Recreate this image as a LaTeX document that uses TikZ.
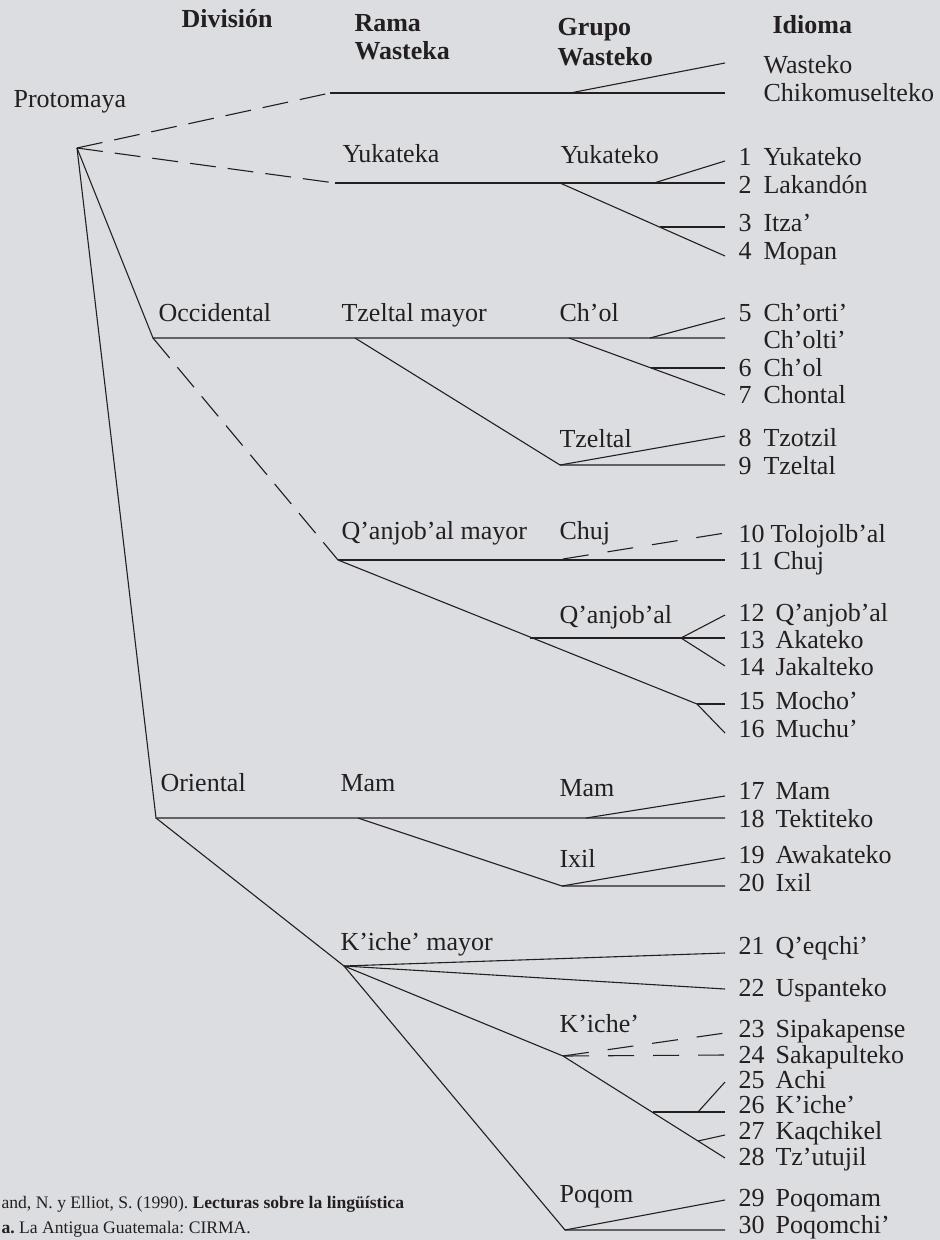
\documentclass[tikz,border=0pt]{standalone}
\usepackage{fontspec}
\setmainfont{Liberation Serif}
\definecolor{paper}{RGB}{220,221,224}
\definecolor{ink}{RGB}{35,31,32}

\begin{document}
\begin{tikzpicture}[x=0.5pt,y=-0.5pt,line width=0.55pt,color=ink,
  lbl/.style={anchor=base west,inner sep=0pt,font=\fontsize{13}{15}\selectfont},
  hdr/.style={lbl,font=\fontsize{13}{15}\selectfont\bfseries},
  cite/.style={anchor=base west,inner sep=0pt,font=\fontsize{8.8}{12}\selectfont\frenchspacing},
  dashline/.style={dash pattern=on 13pt off 6pt},
  dashgrp/.style={dash pattern=on 13pt off 9.5pt}]
\useasboundingbox (0,0) rectangle (940,1240);
\fill[paper] (0,0) rectangle (940,1240);

% column heads
\node[hdr] (division) at (181,28) {Divisi\'on};
\node[hdr] (rama) at (354,32) {Rama};
\node[hdr] (ramaw) at (354,60) {Wasteka};
\node[hdr] (grupo) at (557,36) {Grupo};
\node[hdr] (grupow) at (557,66) {Wasteko};
\node[hdr] (idioma) at (772,34) {Idioma};

% division and branch names
\node[lbl] (protomaya) at (13,108) {Protomaya};
\node[lbl] (occidental) at (158,322) {Occidental};
\node[lbl] (oriental) at (160,791) {Oriental};
\node[lbl] (r-yuk) at (342,163) {Yukateka};
\node[lbl] (r-tzel) at (341,322) {Tzeltal mayor};
\node[lbl] (r-qanj) at (341,539) {Q'anjob'al mayor};
\node[lbl] (r-mam) at (340,791) {Mam};
\node[lbl] (r-kich) at (340,950) {K'iche' mayor};

% group names
\node[lbl] (g-yuk) at (560,164) {Yukateko};
\node[lbl] (g-chol) at (559,322) {Ch'ol};
\node[lbl] (g-tzel) at (559,447) {Tzeltal};
\node[lbl] (g-chuj) at (559,539) {Chuj};
\node[lbl] (g-qanj) at (559,623) {Q'anjob'al};
\node[lbl] (g-mam) at (559,796) {Mam};
\node[lbl] (g-ixil) at (559,867) {Ixil};
\node[lbl] (g-kich) at (559,1032) {K'iche'};
\node[lbl] (g-poq) at (559,1202) {Poqom};

% languages: name/line end/baseline/number/text x/text
\foreach \nm/\e/\y/\n/\x/\t in {
  wA/63/74//763/Wasteko, wB/93/102//763/Chikomuselteko,
  l1/161/166/1/763/Yukateko, l2/183/194/2/763/Lakand\'on,
  l3/227/232/3/763/Itza', l4/256/260/4/763/Mopan,
  l5/318/322/5/763/Ch'orti', lc/338/349//763/Ch'olti',
  l6/368/377/6/763/Ch'ol, l7/395/404/7/763/Chontal,
  l8/436/446/8/763/Tzotzil, l9/465/474/9/763/Tzeltal,
  l10/533/542/10/770/Tolojolb'al, l11/560/569/11/773/Chuj,
  l12/615/621/12/775/Q'anjob'al, l13/638/648/13/775/Akateko,
  l14/666/675/14/775/Jakalteko, l15/704/709/15/775/Mocho',
  l16/733/737/16/775/Muchu', l17/796/799/17/775/Mam,
  l18/818/827/18/775/Tektiteko, l19/858/863/19/775/Awakateko,
  l20/886/891/20/775/Ixil, l21/953/954/21/775/Q'eqchi',
  l22/989/996/22/775/Uspanteko, l23/1033/1037/23/775/Sipakapense,
  l24/1055/1063/24/775/Sakapulteko, l25/1082/1088/25/775/Achi,
  l26/1112/1113/26/775/K'iche', l27/1135/1139/27/775/Kaqchikel,
  l28/1158/1165/28/775/Tz'utujil, l29/1200/1206/29/775/Poqomam,
  l30/1230/1233/30/775/Poqomchi'} {
  \coordinate (\nm) at (725,\e);
  \node[lbl] (num-\nm) at (738,\y) {\n};
  \node[lbl] (lang-\nm) at (\x,\y) {\t};
}

% junctions
\coordinate (proto) at (77,148);
\coordinate (wast) at (330,93);
\coordinate (wastf) at (570,93);
\coordinate (yuka) at (335,183);
\coordinate (yukf) at (654,183);
\coordinate (yuks) at (560,183);
\coordinate (itza) at (660,227);
\coordinate (occ) at (153,338);
\coordinate (tzm) at (355,338);
\coordinate (chol) at (569,338);
\coordinate (cholu) at (650,338);
\coordinate (chols) at (651,368);
\coordinate (tzl) at (560,465);
\coordinate (qm) at (338,560);
\coordinate (chuj) at (563,559);
\coordinate (qanj) at (530,638);
\coordinate (qanjf) at (681,638);
\coordinate (moch) at (697,704);
\coordinate (ori) at (156,818);
\coordinate (mam) at (358,818);
\coordinate (mamf) at (586,818);
\coordinate (ixil) at (562,886);
\coordinate (kim) at (344,966);
\coordinate (kic) at (563,1056);
\coordinate (achi) at (653,1112);
\coordinate (achif) at (698,1112);
\coordinate (kaq) at (698,1141);
\coordinate (poq) at (565,1230);

% Wasteka and Yukateka
\draw[dashline] (proto) -- (wast);
\draw (wast) -- (wB);
\draw (wastf) -- (wA);
\draw[dashline] (proto) -- (yuka);
\draw (yuka) -- (l2);
\draw (yukf) -- (l1);
\draw (yuks) -- (l4);
\draw (itza) -- (l3);

% Occidental
\draw (proto) -- (occ) -- (lc);
\draw (cholu) -- (l5);
\draw (chol) -- (l7);
\draw (chols) -- (l6);
\draw (tzm) -- (tzl) -- (l9);
\draw (tzl) -- (l8);
\draw[dashline] (occ) -- (qm);
\draw (qm) -- (l11);
\draw[dashgrp] (chuj) -- (l10);
\draw (qm) -- (moch) -- (l16);
\draw (moch) -- (l15);
\draw (qanj) -- (l13);
\draw (qanjf) -- (l12);
\draw (qanjf) -- (l14);

% Oriental
\draw (proto) -- (ori) -- (l18);
\draw (mamf) -- (l17);
\draw (mam) -- (ixil) -- (l20);
\draw (ixil) -- (l19);
\draw (ori) -- (kim);
\draw (kim) -- (l21);
\draw (kim) -- (l22);
\draw (kim) -- (kic) -- (l28);
\draw[dashgrp] (kic) -- (l23);
\draw[dashgrp] (kic) -- (l24);
\draw (achi) -- (l26);
\draw (achif) -- (l25);
\draw (kaq) -- (l27);
\draw (kim) -- (poq) -- (l30);
\draw (poq) -- (l29);

% source
\node[cite] (ref1) at (1,1208) {and, N. y Elliot, S. (1990). \textbf{Lecturas sobre la ling\"u\'\i stica}};
\node[cite] (ref2) at (1,1233) {\textbf{a.} La Antigua Guatemala: CIRMA.};
\end{tikzpicture}
\end{document}
